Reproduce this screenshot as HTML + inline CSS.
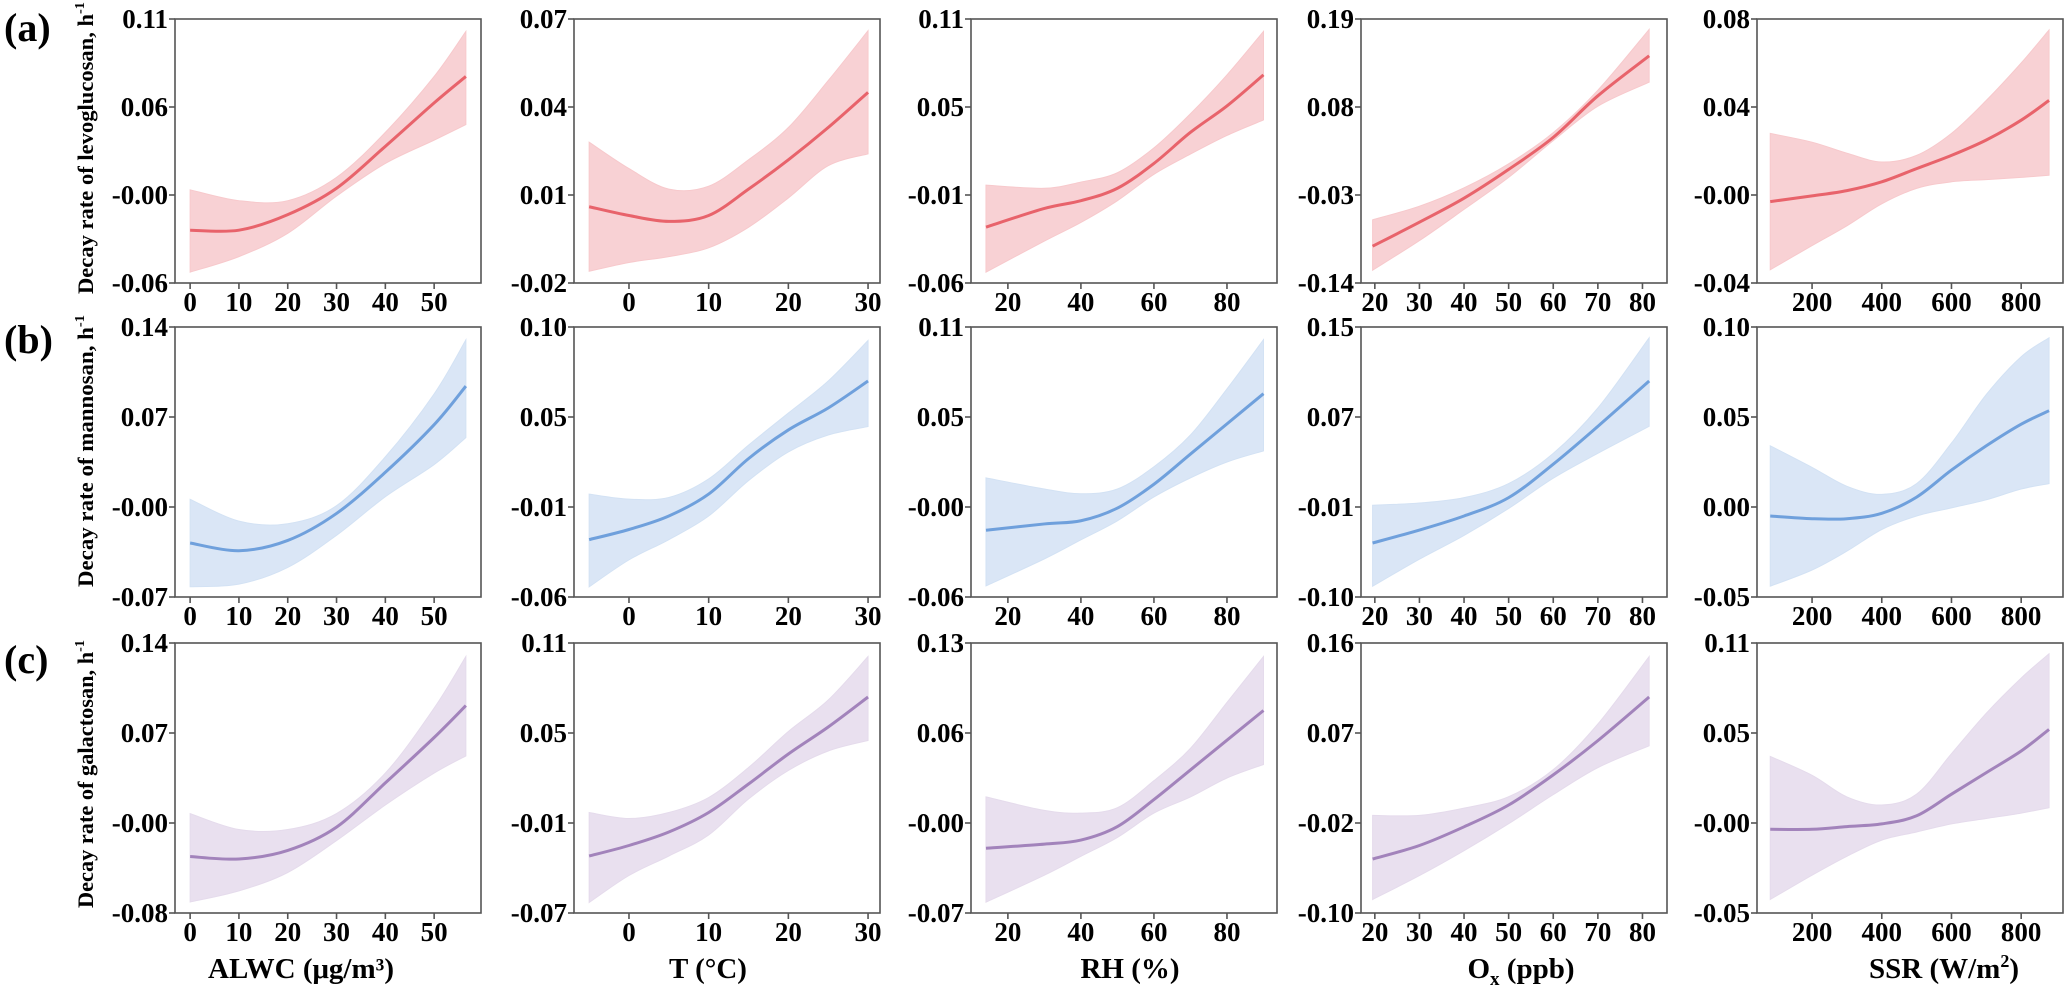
<!DOCTYPE html>
<html><head><meta charset="utf-8">
<style>
html,body{margin:0;padding:0;background:#fff;}
svg{display:block;font-family:"Liberation Serif",serif;font-weight:bold;}
</style></head>
<body>
<svg id="chart" width="2067" height="987" viewBox="0 0 2067 987" xmlns="http://www.w3.org/2000/svg">
<rect width="2067" height="987" fill="#fff"/>
<text x="4" y="41" font-size="40">(a)</text>
<text x="4" y="353" font-size="40">(b)</text>
<text x="4" y="673" font-size="40">(c)</text>
<text transform="translate(93,148) rotate(-90)" text-anchor="middle" font-size="22" textLength="292" lengthAdjust="spacingAndGlyphs">Decay rate of levoglucosan, h<tspan dy="-9" font-size="14">-1</tspan></text>
<text transform="translate(93,451) rotate(-90)" text-anchor="middle" font-size="22" textLength="272" lengthAdjust="spacingAndGlyphs">Decay rate of mannosan, h<tspan dy="-9" font-size="14">-1</tspan></text>
<text transform="translate(93,774) rotate(-90)" text-anchor="middle" font-size="22" textLength="268" lengthAdjust="spacingAndGlyphs">Decay rate of galactosan, h<tspan dy="-9" font-size="14">-1</tspan></text>
<text x="301" y="978" text-anchor="middle" font-size="29">ALWC (μg/m³)</text>
<text x="708" y="978" text-anchor="middle" font-size="29">T (°C)</text>
<text x="1130" y="978" text-anchor="middle" font-size="29">RH (%)</text>
<text x="1521" y="978" text-anchor="middle" font-size="29">O<tspan dy="7" font-size="19">x</tspan><tspan dy="-7"> (ppb)</tspan></text>
<text x="1944" y="978" text-anchor="middle" font-size="29">SSR (W/m<tspan dy="-11" font-size="18">2</tspan><tspan dy="11">)</tspan></text>
</svg>
<script>
// x positions of estimates per variable
const xALWC = [0,10,20,30,40,50,56.5];
const xT = [-5,0,5,10,15,20,25,30];
const xRH = [14,30,40,50,60,70,80,90];
const xOx = [19.5,30,40,50,60,70,81.5];
const xSSR = [80,200,300,400,500,600,700,800,880];
// x tick values
const ticksALWC = [0,10,20,30,40,50];
const ticksT = [0,10,20,30];
const ticksRH = [20,40,60,80];
const ticksOx = [20,30,40,50,60,70,80];
const ticksSSR = [200,400,600,800];
// y tick labels per panel
const yTicksA1 = ["-0.06","-0.00","0.06","0.11"];
const yTicksA2 = ["-0.02","0.01","0.04","0.07"];
const yTicksA3 = ["-0.06","-0.01","0.05","0.11"];
const yTicksA4 = ["-0.14","-0.03","0.08","0.19"];
const yTicksA5 = ["-0.04","-0.00","0.04","0.08"];
const yTicksB1 = ["-0.07","-0.00","0.07","0.14"];
const yTicksB2 = ["-0.06","-0.01","0.05","0.10"];
const yTicksB3 = ["-0.06","-0.00","0.05","0.11"];
const yTicksB4 = ["-0.10","-0.01","0.07","0.15"];
const yTicksB5 = ["-0.05","0.00","0.05","0.10"];
const yTicksC1 = ["-0.08","-0.00","0.07","0.14"];
const yTicksC2 = ["-0.07","-0.01","0.05","0.11"];
const yTicksC3 = ["-0.07","-0.00","0.06","0.13"];
const yTicksC4 = ["-0.10","-0.02","0.07","0.16"];
const yTicksC5 = ["-0.05","-0.00","0.05","0.11"];
// levoglucosan
const fitA1 = [-0.026,-0.026,-0.016,0.001,0.028,0.056,0.073];
const upA1 = [0.0,-0.007,-0.007,0.008,0.037,0.073,0.102];
const loA1 = [-0.053,-0.043,-0.028,-0.004,0.017,0.032,0.042];
const fitA2 = [0.006,0.003,0.001,0.003,0.012,0.022,0.033,0.045];
const upA2 = [0.028,0.019,0.012,0.013,0.022,0.033,0.049,0.066];
const loA2 = [-0.016,-0.013,-0.011,-0.008,-0.001,0.009,0.020,0.024];
const fitA3 = [-0.024,-0.012,-0.007,0.001,0.017,0.037,0.054,0.074];
const upA3 = [0.003,0.001,0.005,0.011,0.027,0.049,0.074,0.102];
const loA3 = [-0.053,-0.033,-0.021,-0.007,0.010,0.023,0.035,0.045];
const fitA4 = [-0.094,-0.064,-0.034,0.002,0.042,0.094,0.144];
const upA4 = [-0.061,-0.044,-0.021,0.009,0.048,0.101,0.177];
const loA4 = [-0.124,-0.087,-0.048,-0.008,0.038,0.081,0.111];
const fitA5 = [-0.003,-0.0004,0.002,0.006,0.012,0.018,0.025,0.034,0.043];
const upA5 = [0.028,0.024,0.019,0.015,0.018,0.028,0.043,0.060,0.075];
const loA5 = [-0.034,-0.023,-0.014,-0.004,0.003,0.006,0.007,0.008,0.009];
// mannosan
const fitB1 = [-0.028,-0.034,-0.026,-0.005,0.027,0.064,0.094];
const upB1 = [0.006,-0.011,-0.013,0.001,0.039,0.088,0.130];
const loB1 = [-0.062,-0.060,-0.047,-0.022,0.008,0.033,0.054];
const fitB2 = [-0.026,-0.020,-0.012,0.001,0.022,0.039,0.052,0.068];
const upB2 = [0.001,-0.002,-0.001,0.010,0.030,0.049,0.068,0.092];
const loB2 = [-0.054,-0.038,-0.026,-0.012,0.009,0.026,0.036,0.041];
const fitB3 = [-0.018,-0.014,-0.012,-0.004,0.011,0.030,0.049,0.068];
const upB3 = [0.015,0.008,0.005,0.008,0.022,0.042,0.071,0.102];
const loB3 = [-0.053,-0.036,-0.024,-0.012,0.003,0.015,0.025,0.032];
const fitB4 = [-0.050,-0.038,-0.025,-0.008,0.023,0.058,0.100];
const upB4 = [-0.015,-0.013,-0.008,0.005,0.033,0.075,0.140];
const loB4 = [-0.090,-0.065,-0.043,-0.018,0.010,0.033,0.058];
const fitB5 = [-0.005,-0.0065,-0.0065,-0.0035,0.0055,0.0205,0.034,0.046,0.0535];
const upB5 = [0.034,0.022,0.0115,0.007,0.013,0.0355,0.0625,0.0835,0.094];
const loB5 = [-0.044,-0.035,-0.0245,-0.0125,-0.005,-0.0005,0.004,0.010,0.013];
// galactosan
const fitC1 = [-0.034,-0.036,-0.029,-0.010,0.026,0.063,0.089];
const upC1 = [0.001,-0.012,-0.012,0.001,0.034,0.087,0.129];
const loC1 = [-0.071,-0.062,-0.047,-0.021,0.008,0.034,0.048];
const fitC2 = [-0.032,-0.025,-0.016,-0.003,0.016,0.036,0.054,0.074];
const upC2 = [-0.003,-0.007,-0.003,0.007,0.027,0.051,0.072,0.101];
const loC2 = [-0.063,-0.045,-0.032,-0.018,0.006,0.025,0.038,0.045];
const fitC3 = [-0.022,-0.019,-0.016,-0.006,0.014,0.036,0.058,0.080];
const upC3 = [0.016,0.006,0.004,0.008,0.028,0.052,0.086,0.120];
const loC3 = [-0.062,-0.042,-0.028,-0.014,0.004,0.016,0.030,0.040];
const fitC4 = [-0.048,-0.035,-0.017,0.004,0.033,0.066,0.108];
const upC4 = [-0.006,-0.006,0.001,0.012,0.038,0.082,0.147];
const loC4 = [-0.087,-0.064,-0.040,-0.014,0.014,0.040,0.061];
const fitC5 = [-0.0004,-0.0004,0.0012,0.0028,0.0076,0.0204,0.0332,0.046,0.0588];
const upC5 = [0.0428,0.0316,0.0188,0.014,0.0204,0.0444,0.0684,0.0892,0.1036];
const loC5 = [-0.042,-0.0276,-0.0164,-0.0068,-0.002,0.0028,0.006,0.0092,0.0124];

const NS = "http://www.w3.org/2000/svg";
const svg = document.getElementById("chart");
const colLeft = [175,574,971,1361,1757];
const colW = 306;
const rowTop = [19,327,643];
const rowBot = [283,597,913];
const xDomains = [[-3.1,59.6],[-6.9,31.5],[9.9,93.7],[16.9,85.5],[42,920]];
const colX = [xALWC,xT,xRH,xOx,xSSR];
const colTicks = [ticksALWC,ticksT,ticksRH,ticksOx,ticksSSR];
const varNames = ["alwc","t","rh","ox","ssr"];
const rowNames = ["levoglucosan","mannosan","galactosan"];
const rowStyles = [
  {line:"#e8636b", fill:"#f7c9cc"},
  {line:"#6fa0dc", fill:"#d3e2f4"},
  {line:"#a283bb", fill:"#e5dbec"}];
const yTicks = [[yTicksA1,yTicksA2,yTicksA3,yTicksA4,yTicksA5],[yTicksB1,yTicksB2,yTicksB3,yTicksB4,yTicksB5],[yTicksC1,yTicksC2,yTicksC3,yTicksC4,yTicksC5]];
const fits = [[fitA1,fitA2,fitA3,fitA4,fitA5],[fitB1,fitB2,fitB3,fitB4,fitB5],[fitC1,fitC2,fitC3,fitC4,fitC5]];
const ups = [[upA1,upA2,upA3,upA4,upA5],[upB1,upB2,upB3,upB4,upB5],[upC1,upC2,upC3,upC4,upC5]];
const los = [[loA1,loA2,loA3,loA4,loA5],[loB1,loB2,loB3,loB4,loB5],[loC1,loC2,loC3,loC4,loC5]];

function mk(tag, attrs, parent){
  const e = document.createElementNS(NS, tag);
  for (const k in attrs) e.setAttribute(k, attrs[k]);
  (parent||svg).appendChild(e);
  return e;
}
function spline(pts, moveFirst){
  let d = (moveFirst ? "M" : "L") + pts[0][0].toFixed(2) + "," + pts[0][1].toFixed(2);
  for (let i=0;i<pts.length-1;i++){
    const p0 = pts[Math.max(0,i-1)], p1 = pts[i], p2 = pts[i+1], p3 = pts[Math.min(pts.length-1,i+2)];
    const c1x = p1[0]+(p2[0]-p0[0])/6, c1y = p1[1]+(p2[1]-p0[1])/6;
    const c2x = p2[0]-(p3[0]-p1[0])/6, c2y = p2[1]-(p3[1]-p1[1])/6;
    d += "C"+c1x.toFixed(2)+","+c1y.toFixed(2)+" "+c2x.toFixed(2)+","+c2y.toFixed(2)+" "+p2[0].toFixed(2)+","+p2[1].toFixed(2);
  }
  return d;
}

for (let r=0;r<3;r++){
  for (let c=0;c<5;c++){
    const L = colLeft[c], R = L+colW, T = rowTop[r], B = rowBot[r];
    const xd = xDomains[c];
    const labs = yTicks[r][c];
    const y0 = parseFloat(labs[0]), y1 = parseFloat(labs[labs.length-1]);
    const sx = v => L + (v-xd[0])/(xd[1]-xd[0])*colW;
    const sy = v => B - (v-y0)/(y1-y0)*(B-T);
    const g = mk("g", {});
    
    
    const xs = colX[c];
    const upPts = xs.map((x,i)=>[sx(x), sy(ups[r][c][i])]);
    const loPts = xs.map((x,i)=>[sx(x), sy(los[r][c][i])]).reverse();
    const band = mk("path", {d: spline(upPts,true) + spline(loPts,false) + "Z", fill: rowStyles[r].fill, "fill-opacity":"0.85", stroke: rowStyles[r].fill, "stroke-width":"1"}, g);
    
    
    const fitPts = xs.map((x,i)=>[sx(x), sy(fits[r][c][i])]);
    const line = mk("path", {d: spline(fitPts,true), fill:"none", stroke: rowStyles[r].line, "stroke-width":"3"}, g);
    
    
    const box = mk("rect", {x:L, y:T, width:colW, height:B-T, fill:"none", stroke:"#555", "stroke-width":"1.6"}, g);
    
    
    labs.forEach((lab,i)=>{
      const yy = T + (B-T)*(1 - i/(labs.length-1));
      mk("line", {x1:L-6, x2:L, y1:yy, y2:yy, stroke:"#555", "stroke-width":"1.6"}, g);
      const t = mk("text", {x:L-7, y:yy+9, "text-anchor":"end", "font-size":"27", fill:"#000"}, g);
      
      
      t.textContent = lab;
    });
    colTicks[c].forEach(v=>{
      const xx = sx(v);
      mk("line", {x1:xx, x2:xx, y1:B, y2:B+6, stroke:"#555", "stroke-width":"1.6"}, g);
      const t = mk("text", {x:xx, y:B+28, "text-anchor":"middle", "font-size":"27", fill:"#000"}, g);
      
      
      t.textContent = String(v);
    });
  }
}
</script>
</body></html>
